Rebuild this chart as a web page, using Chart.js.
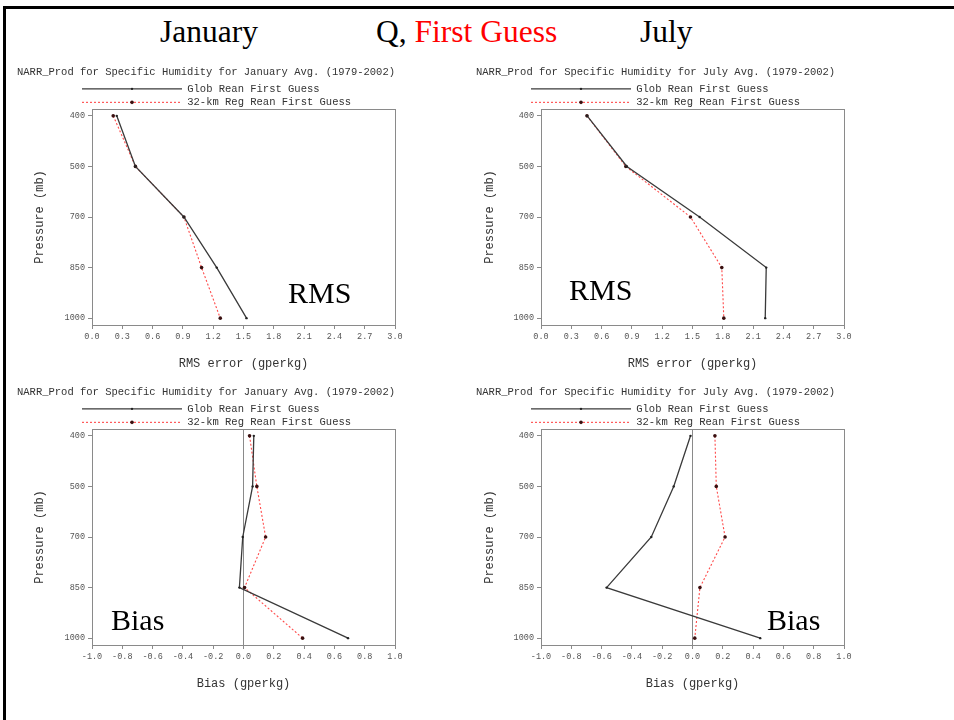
<!DOCTYPE html>
<html><head><meta charset="utf-8">
<script src="https://cdn.jsdelivr.net/npm/chart.js@4/dist/chart.umd.min.js"></script>
<style>
html,body{margin:0;padding:0;background:#fff;}
body{width:954px;height:720px;position:relative;overflow:hidden;}
#frame{position:absolute;left:3px;top:6px;width:960px;height:720px;border-left:3px solid #000;border-top:3px solid #000;}
canvas{position:absolute;}
.big{position:absolute;font-family:"Liberation Serif","Times New Roman",serif;line-height:1;white-space:nowrap;color:#000;}
</style></head><body>
<div id="frame"></div>
<div class="big" style="left:160px;top:16px;font-size:31.5px">January</div>
<div class="big" style="left:376px;top:16px;font-size:31.5px">Q, <span style="color:#ff0000">First Guess</span></div>
<div class="big" style="left:640px;top:16px;font-size:31.5px">July</div>
<canvas id="c1" width="400" height="309" style="left:17px;top:66px"></canvas>
<canvas id="c2" width="400" height="309" style="left:476px;top:66px"></canvas>
<canvas id="c3" width="400" height="309" style="left:17px;top:386px"></canvas>
<canvas id="c4" width="400" height="309" style="left:476px;top:386px"></canvas>
<div class="big" style="left:288px;top:278px;font-size:30px">RMS</div>
<div class="big" style="left:569px;top:275px;font-size:30px">RMS</div>
<div class="big" style="left:111px;top:605px;font-size:30px">Bias</div>
<div class="big" style="left:767px;top:605px;font-size:30px">Bias</div>
<script>
// ---- data ----
const pressureLabels = ['400', '500', '700', '850', '1000'];
const levelIndex = [0, 1, 2, 3, 4];
const rmsTicks = [0.0, 0.3, 0.6, 0.9, 1.2, 1.5, 1.8, 2.1, 2.4, 2.7, 3.0];
const biasTicks = [-1.0, -0.8, -0.6, -0.4, -0.2, 0.0, 0.2, 0.4, 0.6, 0.8, 1.0];
const seriesNames = ['Glob Rean First Guess', '32-km Reg Rean First Guess'];
const panelTitles = [
  'NARR_Prod for Specific Humidity for January Avg. (1979-2002)',
  'NARR_Prod for Specific Humidity for July Avg. (1979-2002)'
];
const axisTitles = ['RMS error (gperkg)', 'Bias (gperkg)', 'Pressure (mb)'];

const janRmsGlob = [0.245, 0.43, 0.91, 1.235, 1.53];
const janRmsReg  = [0.21, 0.43, 0.91, 1.085, 1.27];
const julRmsGlob = [0.457, 0.85, 1.57, 2.23, 2.22];
const julRmsReg  = [0.455, 0.84, 1.48, 1.79, 1.81];
const janBiasGlob = [0.068, 0.06, -0.005, -0.027, 0.69];
const janBiasReg  = [0.04, 0.088, 0.146, 0.007, 0.39];
const julBiasGlob = [-0.013, -0.124, -0.272, -0.567, 0.447];
const julBiasReg  = [0.148, 0.157, 0.215, 0.049, 0.015];

// ---- styling ----
const MONO = '"Liberation Mono","DejaVu Sans Mono",monospace';

const framePlugin = {
  id: 'frameBox',
  beforeDatasetsDraw(chart) {
    const a = chart.chartArea, ctx = chart.ctx;
    ctx.save();
    ctx.strokeStyle = '#8a8a8a';
    ctx.lineWidth = 1;
    ctx.strokeRect(Math.round(a.left) + 0.5, Math.round(a.top) + 0.5,
                   Math.round(a.right - a.left), Math.round(a.bottom - a.top));
    ctx.restore();
  }
};

const legendShift = {
  id: 'legendShift',
  afterLayout(chart) {
    const lg = chart.legend;
    if (!lg) return;
    const pad = lg.options.labels.padding;
    const shift = chart.chartArea.left - 10 - pad - lg.left;
    lg.left += shift; lg.right += shift;
    (lg.legendHitBoxes || []).forEach(h => { h.left += shift; });
  },
  afterDraw(chart) {
    const lg = chart.legend;
    if (!lg || !lg.legendHitBoxes) return;
    const ctx = chart.ctx;
    const bw = lg.options.labels.pointStyleWidth;
    lg.legendHitBoxes.forEach((h, i) => {
      const ds = chart.data.datasets[i];
      ctx.save();
      ctx.fillStyle = ds.pointBackgroundColor;
      ctx.beginPath();
      ctx.arc(h.left + bw / 2, h.top + h.height / 2, ds.pointRadius, 0, Math.PI * 2);
      ctx.fill();
      ctx.restore();
    });
  }
};

function legendLabels(chart) {
  return Chart.defaults.plugins.legend.labels.generateLabels(chart).map((it, i) => {
    const ds = chart.data.datasets[i];
    it.lineWidth = ds.borderWidth;
    it.strokeStyle = ds.borderColor;
    it.lineDash = ds.borderDash || [];
    it.pointStyle = 'line';
    return it;
  });
}

function toPts(vals) { return vals.map((v, i) => ({ x: v, y: levelIndex[i] })); }

function makeChart(id, titleIdx, kind, glob, reg, yAxisWidth, yTitlePad, rightPad) {
  const isBias = kind === 'bias';
  const ticks = isBias ? biasTicks : rmsTicks;
  new Chart(document.getElementById(id), {
    type: 'line',
    data: {
      datasets: [
        {
          label: seriesNames[0], data: toPts(glob),
          borderColor: '#3a3a3a', backgroundColor: '#3a3a3a', borderWidth: 1.3,
          pointRadius: 1.2, pointBackgroundColor: '#222', pointBorderWidth: 0,
          tension: 0
        },
        {
          label: seriesNames[1], data: toPts(reg),
          borderColor: '#ff4a4a', backgroundColor: '#ff4a4a', borderWidth: 1.1,
          borderDash: [2, 2],
          pointRadius: 1.8, pointBackgroundColor: '#3a1010', pointBorderWidth: 0,
          tension: 0
        }
      ]
    },
    options: {
      responsive: false, animation: false, devicePixelRatio: 1,
      layout: { padding: { left: 0, right: rightPad, top: 0, bottom: 0 } },
      plugins: {
        tooltip: { enabled: false },
        title: {
          display: true, text: panelTitles[titleIdx], align: 'start',
          color: '#333', font: { family: MONO, size: 10.5, lineHeight: 1.2, weight: 'normal' },
          padding: { top: 0, bottom: 2 }
        },
        legend: {
          display: true, position: 'top', align: 'start', maxHeight: 28.4,
          labels: {
            color: '#333', font: { family: MONO, size: 10.5 },
            usePointStyle: true, pointStyle: 'line', pointStyleWidth: 100,
            boxHeight: 6, padding: 3,
            generateLabels: legendLabels
          }
        }
      },
      scales: {
        x: {
          type: 'linear', min: ticks[0], max: ticks[ticks.length - 1],
          afterBuildTicks: s => { s.ticks = ticks.map(v => ({ value: v })); },
          afterFit: s => { s.height = 50; },
          ticks: {
            autoSkip: false, maxRotation: 0, padding: 3, color: '#555',
            font: { family: MONO, size: 8.5 },
            callback: (v, i) => ticks[i].toFixed(1)
          },
          grid: {
            display: true, drawOnChartArea: isBias, tickLength: 4, tickColor: '#8a8a8a',
            color: c => (c.tick && c.tick.value === 0 ? '#8a8a8a' : 'rgba(0,0,0,0)')
          },
          border: { display: true, color: '#8a8a8a', width: 1 },
          title: {
            display: true, text: isBias ? axisTitles[1] : axisTitles[0], color: '#333',
            font: { family: MONO, size: 12, lineHeight: 1.2 }, padding: { top: 0, bottom: 4 }
          }
        },
        y: {
          type: 'linear', reverse: true, min: -0.135, max: 4.135,
          afterBuildTicks: s => { s.ticks = levelIndex.map(v => ({ value: v })); },
          afterFit: s => { s.width = yAxisWidth; },
          ticks: {
            autoSkip: false, padding: 3, color: '#555',
            font: { family: MONO, size: 8.5 },
            callback: (v, i) => pressureLabels[i]
          },
          grid: { display: true, drawOnChartArea: false, tickLength: 4, tickColor: '#8a8a8a' },
          border: { display: true, color: '#8a8a8a', width: 1 },
          title: {
            display: true, text: axisTitles[2], color: '#333',
            font: { family: MONO, size: 12, lineHeight: 1.2 }, padding: { top: yTitlePad, bottom: 0 }
          }
        }
      }
    },
    plugins: [framePlugin, legendShift]
  });
}

makeChart('c1', 0, 'rms', janRmsGlob, janRmsReg, 75, 16, 22);
makeChart('c2', 1, 'rms', julRmsGlob, julRmsReg, 65, 7, 32);
makeChart('c3', 0, 'bias', janBiasGlob, janBiasReg, 75, 16, 22);
makeChart('c4', 1, 'bias', julBiasGlob, julBiasReg, 65, 7, 32);
</script>
</body></html>
